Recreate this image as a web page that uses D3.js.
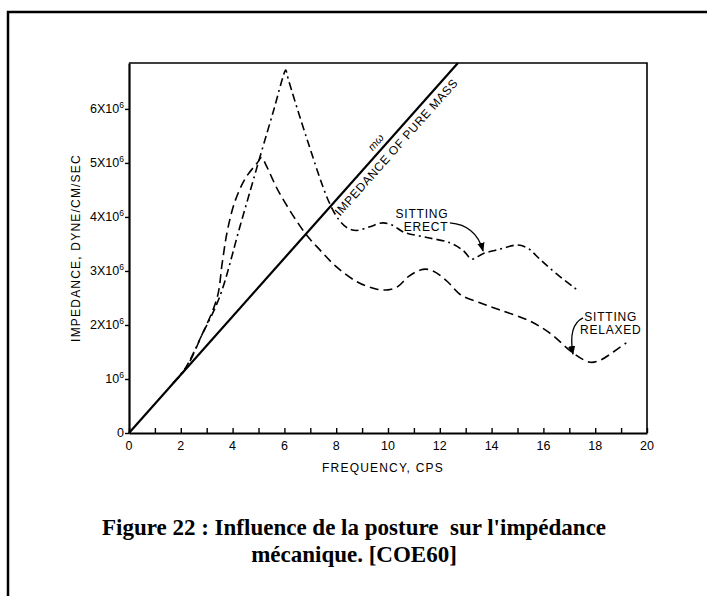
<!DOCTYPE html>
<html><head><meta charset="utf-8">
<script src="https://cdn.jsdelivr.net/npm/d3@7"></script>
<style>html,body{margin:0;padding:0;background:#fff}svg{display:block}</style>
</head><body>
<script>
// ---- data (impedance in units of 1e6 dyne/cm/sec, frequency in cps) ----
const xTicks = [0,2,4,6,8,10,12,14,16,18,20];
const yTicks = [0,1,2,3,4,5,6];
const yTickLabels = ["0","10^6","2X10^6","3X10^6","4X10^6","5X10^6","6X10^6"];
const pureMassFreq = [0, 12.7];
const pureMassImp  = [0, 6.85];
const erectFreq = [1.7, 2.2, 2.8, 3.5, 4.3, 5.05, 5.6, 5.95, 6.05, 6.15, 6.9, 7.7, 8.1, 8.42, 8.8, 9.3, 9.8, 10.2, 10.6, 11.5, 12.4, 12.9, 13.24, 13.67, 14.3, 15.0, 15.4, 15.9, 16.5, 17.3];
const erectImp  = [0.92, 1.22, 1.8, 2.52, 3.85, 5.1, 6.0, 6.6, 6.72, 6.55, 5.4, 4.3, 3.95, 3.8, 3.75, 3.82, 3.89, 3.84, 3.72, 3.62, 3.52, 3.38, 3.22, 3.32, 3.4, 3.48, 3.42, 3.2, 2.95, 2.65];
const relaxFreq = [1.7, 2.2, 2.8, 3.4, 3.6, 3.8, 4.1, 4.5, 4.95, 5.12, 5.3, 5.8, 6.8, 7.37, 8.0, 8.8, 9.5, 10.0, 10.4, 10.8, 11.35, 11.74, 12.3, 12.8, 13.55, 14.3, 15.4, 16.25, 17.15, 17.8, 18.2, 18.7, 19.2];
const relaxImp  = [0.92, 1.2, 1.8, 2.5, 3.15, 3.75, 4.3, 4.72, 5.0, 5.1, 4.95, 4.45, 3.7, 3.39, 3.08, 2.8, 2.67, 2.65, 2.72, 2.9, 3.03, 3.0, 2.8, 2.56, 2.41, 2.28, 2.09, 1.85, 1.48, 1.31, 1.35, 1.5, 1.67];

const W = 707, H = 596;
const svg = d3.select("body").append("svg").attr("width", W).attr("height", H);

// outer frame
svg.append("path").attr("d", `M8,${H} V12 H${W}`).attr("fill","none").attr("stroke","#000").attr("stroke-width",2.5);

const x = d3.scaleLinear().domain([0,20]).range([129,647]);
const y = d3.scaleLinear().domain([0,6.85]).range([433,63]);
const F = "'Liberation Sans', Arial, sans-serif";

// plot box top/right
svg.append("path").attr("d", `M${x(0)},${y(6.85)} H${x(20)} V${y(0)}`).attr("fill","none").attr("stroke","#000").attr("stroke-width",1.6);

// x axis
const xAxis = d3.axisBottom(x).tickValues(d3.range(0,21,1)).tickSizeInner(-5).tickSizeOuter(0).tickFormat("");
const gx = svg.append("g").attr("transform",`translate(0,${y(0)})`).call(xAxis);
gx.select(".domain").attr("stroke-width",2.2);
gx.selectAll(".tick line").attr("stroke-width",1.4);
svg.append("g").selectAll("text").data(xTicks).join("text")
  .attr("x", d=>x(d)).attr("y", y(0)+17).attr("text-anchor","middle")
  .attr("font-family",F).attr("font-size",12.5).text(d=>d);

// y axis
const yAxis = d3.axisLeft(y).tickValues(yTicks).tickSizeInner(4).tickSizeOuter(0).tickFormat("");
const gy = svg.append("g").attr("transform",`translate(${x(0)},0)`).call(yAxis);
gy.select(".domain").attr("stroke-width",2.2);
gy.selectAll(".tick line").attr("stroke-width",1.4);
const yl = svg.append("g").selectAll("text").data(yTicks).join("text")
  .attr("x", x(0)-5).attr("y", d=>y(d)+4).attr("text-anchor","end")
  .attr("font-family",F).attr("font-size",12.5);
yl.each(function(d,i){
  const parts = yTickLabels[i].split("^");
  const t = d3.select(this);
  t.append("tspan").text(parts[0]);
  if (parts[1]) t.append("tspan").attr("dy",-5).attr("font-size",8.5).text(parts[1]);
});

// axis titles
svg.append("text").attr("transform",`translate(80,248) rotate(-90)`).attr("text-anchor","middle")
  .attr("font-family",F).attr("font-size",12).attr("letter-spacing",1.2).text("IMPEDANCE, DYNE/CM/SEC");
svg.append("text").attr("x",383).attr("y",472).attr("text-anchor","middle")
  .attr("font-family",F).attr("font-size",12).attr("letter-spacing",1.2).text("FREQUENCY, CPS");

// pure mass line
const lineGen = d3.line().x(d=>x(d[0])).y(d=>y(d[1]));
svg.append("path").datum(d3.zip(pureMassFreq, pureMassImp)).attr("d", lineGen)
  .attr("fill","none").attr("stroke","#000").attr("stroke-width",2.2);

// label along pure mass line
const x0 = x(pureMassFreq[0]), y0 = y(pureMassImp[0]);
const x1 = x(pureMassFreq[1]), y1 = y(pureMassImp[1]);
const ang = Math.atan2(y1-y0, x1-x0) * 180/Math.PI;
const len = Math.hypot(x1-x0, y1-y0);
const lab = svg.append("g").attr("transform",`translate(${x0},${y0}) rotate(${ang})`);
lab.append("text").attr("x", len*0.79).attr("y", 14).attr("text-anchor","middle")
  .attr("font-family",F).attr("font-size",12).attr("letter-spacing",0.6).text("IMPEDANCE OF PURE MASS");
lab.append("text").attr("x", len*0.77).attr("y", -5).attr("text-anchor","middle")
  .attr("font-family",F).attr("font-size",11).attr("font-style","italic").text("mω");

// curves
const curveGen = d3.line().x(d=>x(d[0])).y(d=>y(d[1])).curve(d3.curveCatmullRom.alpha(0.5));
svg.append("path").datum(d3.zip(relaxFreq, relaxImp)).attr("d", curveGen)
  .attr("fill","none").attr("stroke","#000").attr("stroke-width",1.6).attr("stroke-dasharray","9,5");
svg.append("path").datum(d3.zip(erectFreq, erectImp)).attr("d", curveGen)
  .attr("fill","none").attr("stroke","#000").attr("stroke-width",1.6).attr("stroke-dasharray","8,4,2,4,8,4");

// annotations
function label(lines, fx, vy){
  lines.forEach((s,i)=>{
    svg.append("text").attr("x", x(fx[i])).attr("y", y(vy[i])).attr("text-anchor","middle")
      .attr("font-family",F).attr("font-size",12).attr("letter-spacing",0.8).text(s);
  });
}
label(["SITTING","ERECT"],[11.31,11.47],[3.98,3.74]);
label(["SITTING","RELAXED"],[18.6,18.6],[2.07,1.83]);

svg.append("defs").append("marker").attr("id","ah").attr("viewBox","0 0 10 10").attr("refX",9).attr("refY",5)
  .attr("markerWidth",7).attr("markerHeight",7).attr("orient","auto-start-reverse")
  .append("path").attr("d","M0,1 L10,5 L0,9 Z").attr("fill","#000");

function arrow(p0, c, p1){
  svg.append("path").attr("d",`M${x(p0[0])},${y(p0[1])} Q${x(c[0])},${y(c[1])} ${x(p1[0])},${y(p1[1])}`)
    .attr("fill","none").attr("stroke","#000").attr("stroke-width",1.3).attr("marker-end","url(#ah)");
}
arrow([12.39,3.89],[13.4,3.85],[13.67,3.37]);
arrow([17.53,2.13],[16.95,2.0],[17.14,1.46]);

// caption
const TF = "'Liberation Serif', 'Times New Roman', serif";
svg.append("text").attr("x",354).attr("y",535).attr("text-anchor","middle").attr("font-family",TF)
  .attr("font-weight","bold").attr("font-size",23).style("white-space","pre")
  .text("Figure 22 : Influence de la posture  sur l'impédance");
svg.append("text").attr("x",354).attr("y",562).attr("text-anchor","middle").attr("font-family",TF)
  .attr("font-weight","bold").attr("font-size",23).text("mécanique. [COE60]");
</script>
</body></html>
